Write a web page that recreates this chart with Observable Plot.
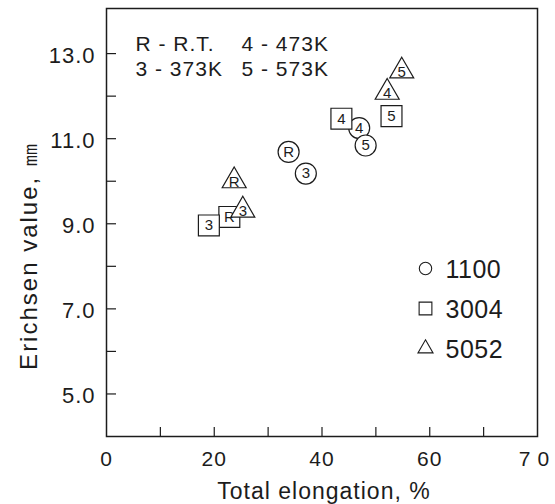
<!DOCTYPE html>
<html><head><meta charset="utf-8">
<script src="https://cdn.jsdelivr.net/npm/d3@7"></script>
<script src="https://cdn.jsdelivr.net/npm/@observablehq/plot@0.6"></script>
<style>
html,body{margin:0;padding:0;background:#fff;}
#chart svg{display:block;}
</style>
</head><body><div id="chart"></div>
<script>
// ---- data ----
const conditions = ["R", "3", "4", "5"];
const alloys = ["1100", "3004", "5052"];
const alloySymbols = ["circle", "square", "triangle"];
const elong1100 = [33.8, 37.0, 46.9, 48.1];
const erich1100 = [10.69, 10.18, 11.25, 10.84];
const elong3004 = [22.8, 19.0, 43.6, 52.9];
const erich3004 = [9.16, 8.96, 11.47, 11.53];
const elong5052 = [23.7, 25.3, 52.1, 54.8];
const erich5052 = [10.01, 9.32, 12.09, 12.59];
const yTickValues = [5, 6, 7, 8, 9, 10, 11, 12, 13];
const yLabelValues = [5, 7, 9, 11, 13];
const xTickValues = [10, 20, 30, 40, 50, 60, 70];
const xLabelValues = [0, 20, 40, 60, 80];
const xLabelTexts = ["0", "20", "40", "60", "70"];
const noteCol1 = ["R - R.T.", "3 - 373K"];
const noteCol2 = ["4 - 473K", "5 - 573K"];
const xTitle = "Total elongation, %";
const yTitle = "Erichsen value, \u339C";

// ---- build ----
const ink = "#1c1c1c";
const W = 555, H = 504, mL = 106, mR = 18, mT = 8, mB = 68;
const frameW = W - mL - mR, frameH = H - mT - mB;

const seriesList = [
  {alloy: alloys[0], symbol: alloySymbols[0], r: 10.5, xs: elong1100, ys: erich1100, dy: 0},
  {alloy: alloys[1], symbol: alloySymbols[1], r: 11.8, xs: elong3004, ys: erich3004, dy: 0},
  {alloy: alloys[2], symbol: alloySymbols[2], r: 8.9, xs: elong5052, ys: erich5052, dy: 1}
];

const marks = [
  Plot.frame({stroke: ink, strokeWidth: 1.5}),
  Plot.tickY(yTickValues, {y: d => d, stroke: ink, strokeWidth: 1.2, insetRight: frameW - 10}),
  Plot.tickX(xTickValues, {x: d => d, stroke: ink, strokeWidth: 1.2, insetTop: frameH - 9}),
  Plot.text(yLabelValues, {y: d => d, text: d => d3.format(".1f")(d), frameAnchor: "left", textAnchor: "end", lineAnchor: "middle", dx: -11, dy: 2, fontSize: 22, fill: ink}),
  Plot.text(xLabelValues, {x: d => d, text: (d, i) => xLabelTexts[i], frameAnchor: "bottom", textAnchor: "middle", lineAnchor: "middle", dy: 23, fontSize: 21, fill: ink}),
  Plot.text([xTitle], {frameAnchor: "bottom", textAnchor: "middle", lineAnchor: "middle", dy: 55.5, dx: 2, fontSize: 23, fill: ink}),
  Plot.text([yTitle], {frameAnchor: "left", textAnchor: "middle", lineAnchor: "middle", dx: -77, dy: 33, rotate: -90, fontSize: 24, fill: ink}),
  Plot.text([noteCol1.join("\n")], {frameAnchor: "top-left", dx: 29, dy: 25, lineAnchor: "top", textAnchor: "start", fontSize: 21, lineHeight: 1.19, fill: ink}),
  Plot.text([noteCol2.join("\n")], {frameAnchor: "top-left", dx: 135, dy: 25, lineAnchor: "top", textAnchor: "start", fontSize: 21, lineHeight: 1.19, fill: ink})
];

for (const s of seriesList) {
  const data = conditions.map((c, i) => ({c, x: s.xs[i], y: s.ys[i]}));
  marks.push(Plot.dot(data, {x: "x", y: "y", symbol: s.symbol, r: s.r, fill: "white", stroke: ink, strokeWidth: 1.2}));
  marks.push(Plot.text(data, {x: "x", y: "y", text: "c", fontSize: 15, dy: s.dy, textAnchor: "middle", lineAnchor: "middle", fill: ink}));
}

// legend inside the frame
const legendR = [6.2, 7.2, 5.6];
seriesList.forEach((s, i) => {
  marks.push(Plot.dot([s.alloy], {frameAnchor: "top-left", dx: 319, dy: 260 + i * 40, symbol: s.symbol, r: legendR[i], fill: "white", stroke: ink, strokeWidth: 1.1}));
  marks.push(Plot.text([s.alloy], {frameAnchor: "top-left", dx: 339, dy: 261 + i * 40, textAnchor: "start", lineAnchor: "middle", fontSize: 25, fill: ink}));
});

const chart = Plot.plot({
  width: W, height: H,
  marginLeft: mL, marginRight: mR, marginTop: mT, marginBottom: mB,
  x: {domain: [0, 80], axis: null},
  y: {domain: [4, 14.06], axis: null},
  style: {fontFamily: "'Liberation Sans', Arial, Helvetica, sans-serif", background: "white", color: ink, letterSpacing: "1px", overflow: "visible"},
  marks
});

const sel = d3.select(chart);
sel.selectAll("text").filter(function() { return this.textContent === "70"; }).style("letter-spacing", "7px");
sel.selectAll("text").filter(function() { return this.textContent === yTitle; }).style("letter-spacing", "2px");
sel.selectAll("text").filter(function() { return alloys.includes(this.textContent); }).style("letter-spacing", "0.5px");
sel.selectAll("text").filter(function() { return conditions.includes(this.textContent); }).style("letter-spacing", "0px");
document.getElementById("chart").appendChild(chart);
</script>
</body></html>
